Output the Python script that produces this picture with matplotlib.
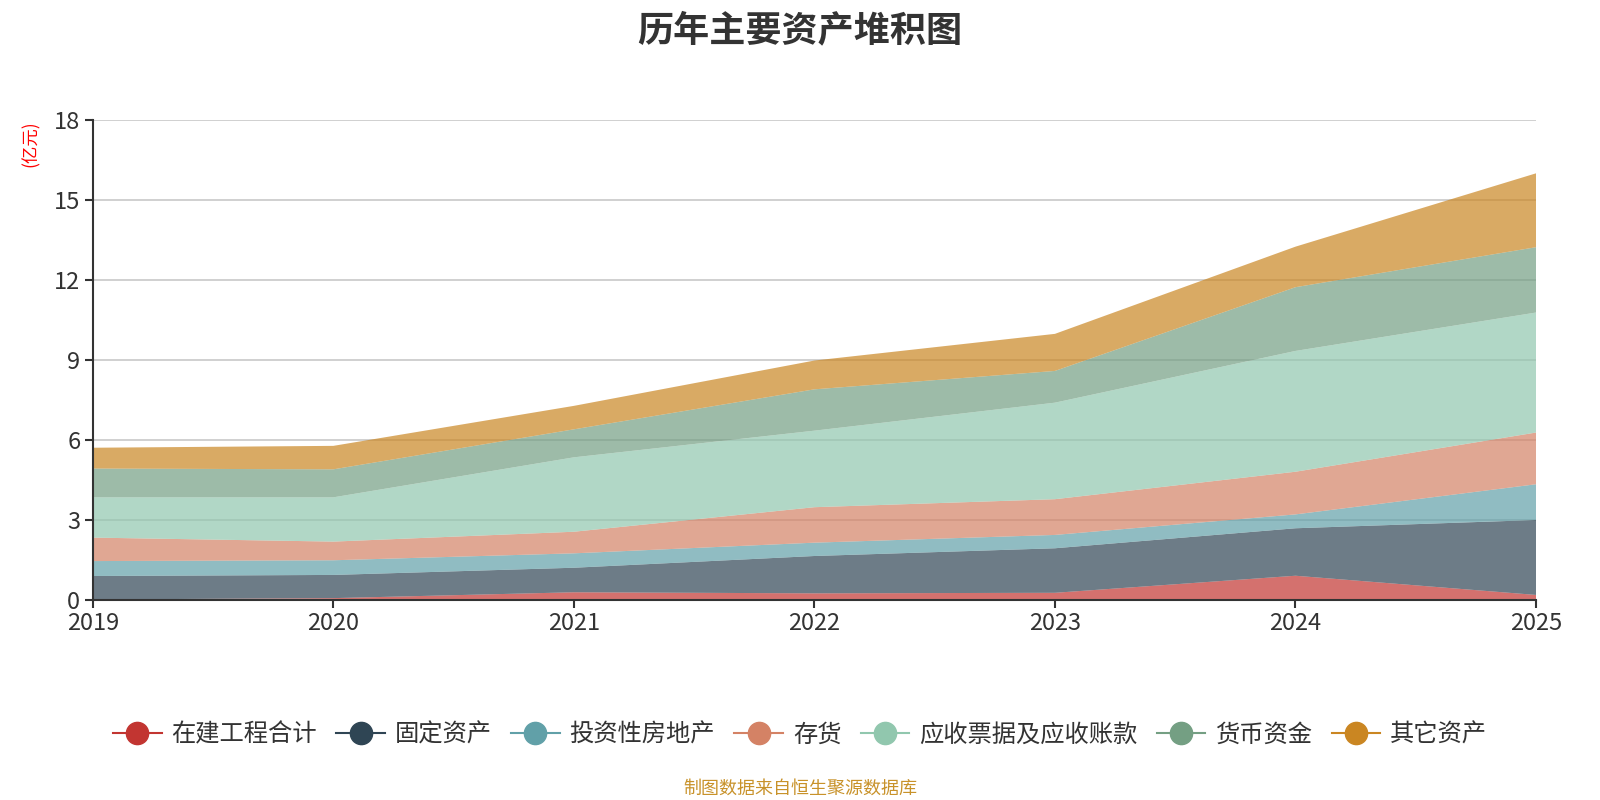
import matplotlib
matplotlib.use("Agg")
import matplotlib.pyplot as plt
from matplotlib.lines import Line2D

plt.rcParams["font.family"] = ["Noto Sans CJK SC", "DejaVu Sans"]

# ---------------------------------------------------------------------------
# data (亿元)
# ---------------------------------------------------------------------------
years = [2019, 2020, 2021, 2022, 2023, 2024, 2025]
series_names = ["在建工程合计", "固定资产", "投资性房地产", "存货",
                "应收票据及应收账款", "货币资金", "其它资产"]
construction = [0.02, 0.07, 0.29, 0.25, 0.27, 0.91, 0.19]
fixed_assets = [0.88, 0.87, 0.92, 1.40, 1.67, 1.78, 2.81]
investment_property = [0.56, 0.55, 0.54, 0.50, 0.50, 0.52, 1.34]
inventory = [0.88, 0.70, 0.81, 1.33, 1.34, 1.60, 1.94]
receivables = [1.51, 1.66, 2.79, 2.87, 3.62, 4.53, 4.50]
cash = [1.08, 1.05, 1.05, 1.55, 1.19, 2.39, 2.45]
other_assets = [0.78, 0.88, 0.88, 1.08, 1.39, 1.52, 2.77]
y_ticks = [0, 3, 6, 9, 12, 15, 18]

colors = ["#c23531", "#2f4554", "#61a0a8", "#d48265",
          "#91c7ae", "#749f83", "#ca8622"]

series = [construction, fixed_assets, investment_property, inventory,
          receivables, cash, other_assets]

fig = plt.figure(figsize=(16, 8), dpi=100)
ax = fig.add_axes([0.058, 0.25, 0.902, 0.60])

ax.set_axisbelow(True)
ax.grid(axis="y", color="#c8c8c8", linewidth=1.2)
ax.stackplot(years, *series, colors=colors, alpha=0.7, linewidth=0)

ax.set_xlim(years[0], years[-1])
ax.set_ylim(0, 18)
ax.set_xticks(years)
ax.set_yticks(y_ticks)
ax.tick_params(axis="both", labelsize=17, colors="#333333", length=6,
               width=1.5, pad=3)
for side in ("top", "right"):
    ax.spines[side].set_visible(False)
for side in ("left", "bottom"):
    ax.spines[side].set_color("#333333")
    ax.spines[side].set_linewidth(1.5)

fig.text(0.5, 0.962, "历年主要资产堆积图", ha="center", va="center",
         fontsize=26, fontweight="bold", color="#333333")
fig.text(0.0195, 0.821, "(亿元)", ha="center", va="center", rotation=90,
         fontsize=12.5, color="red")

handles = [Line2D([0], [0], color=c, linewidth=1.5, marker="o",
                  markersize=16, markerfacecolor=c, markeredgecolor=c)
           for c in colors]
fig.legend(handles, series_names, loc="center", ncol=7,
           bbox_to_anchor=(0.5, 0.082), frameon=False, fontsize=17.5,
           handlelength=2.0, columnspacing=0.8, handletextpad=0.4,
           labelcolor="#333333")

fig.text(0.5, 0.014, "制图数据来自恒生聚源数据库", ha="center", va="center",
         fontsize=13, color="#c8922a")

fig.savefig("out.png", dpi=100)
